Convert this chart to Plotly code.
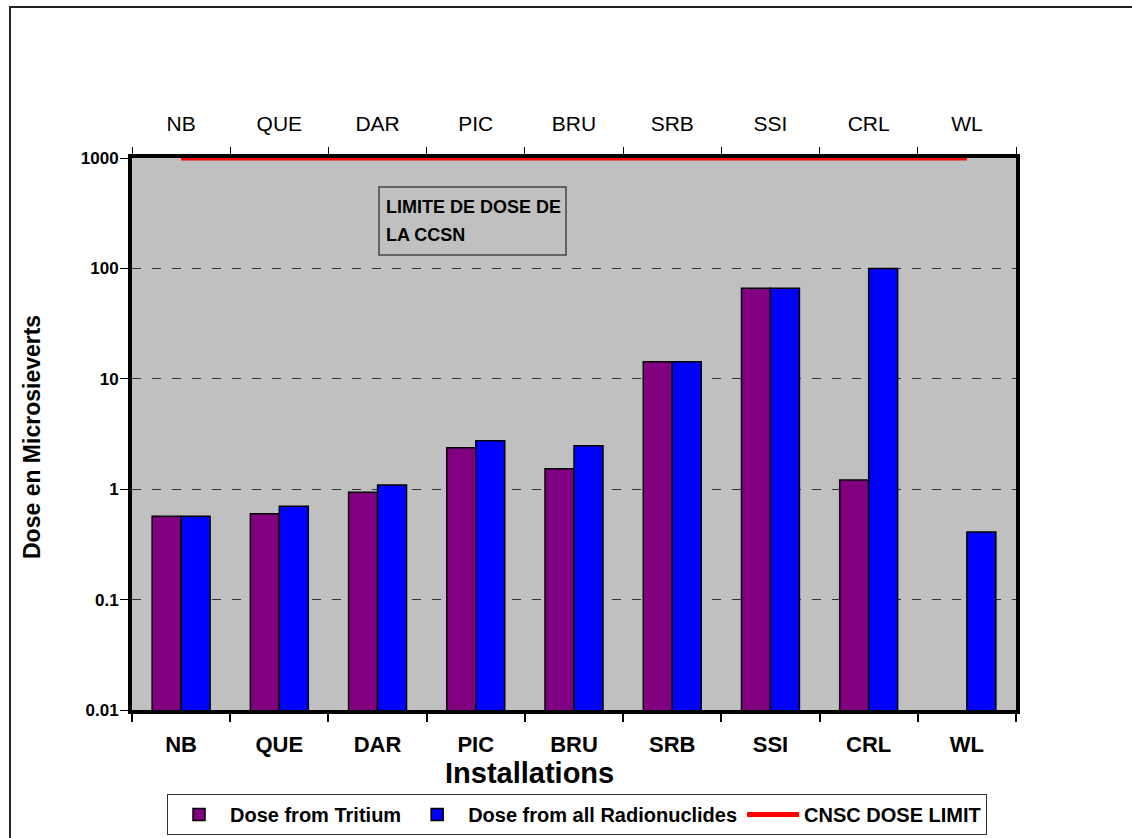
import plotly.graph_objects as go

# Installations along the category axis
sites = ["NB", "QUE", "DAR", "PIC", "BRU", "SRB", "SSI", "CRL", "WL"]

# Annual public dose (microsieverts) per installation
dose_tritium = [0.57, 0.60, 0.94, 2.38, 1.53, 14.3, 66.0, 1.21, None]
dose_all = [0.57, 0.70, 1.09, 2.75, 2.47, 14.3, 66.0, 100.0, 0.41]

# Regulatory dose limit drawn across all installations
dose_limit = [1000, 1000, 1000, 1000, 1000, 1000, 1000, 1000, 1000]

# Log-axis ticks
y_tick_vals = [0.01, 0.1, 1, 10, 100, 1000]
y_tick_text = ["0.01", "0.1", "1", "10", "100", "1000"]

FONT = "Liberation Sans, Arial, sans-serif"
W, H = 1132, 838
L, R, T, B = 132, 116, 158, 128
PW, PH = W - L - R, H - T - B


def px_x(px):
    return (px - L) / PW


def px_y(py):
    return (H - B - py) / PH


fig = go.Figure()

fig.add_bar(
    x=sites, y=dose_tritium, name="Dose from Tritium",
    marker=dict(color="#800080", line=dict(color="black", width=1.5)),
)
fig.add_bar(
    x=sites, y=dose_all, name="Dose from all Radionuclides",
    marker=dict(color="#0000FF", line=dict(color="black", width=1.5)),
)
fig.add_scatter(
    x=sites, y=dose_limit, xaxis="x2", mode="lines", name="CNSC DOSE LIMIT",
    line=dict(color="#FF0000", width=5), cliponaxis=False,
)

boundaries = [i - 0.5 for i in range(len(sites) + 1)]

fig.update_layout(
    width=W, height=H, autosize=False,
    margin=dict(l=L, r=R, t=T, b=B, pad=0, autoexpand=False),
    paper_bgcolor="white", plot_bgcolor="#C0C0C0",
    font=dict(family=FONT, color="black"),
    barmode="group", bargap=0.41, bargroupgap=0,
    showlegend=True,
    legend=dict(
        orientation="h", x=px_x(167), y=px_y(794), xanchor="left", yanchor="top",
        bgcolor="white", bordercolor="#333333", borderwidth=1,
        font=dict(family=FONT, size=20, weight="bold"),
        traceorder="normal", itemwidth=52,
    ),
    xaxis=dict(
        type="category", range=[-0.5, 8.5],
        showline=True, linecolor="black", linewidth=4,
        ticks="outside", tickson="boundaries", ticklen=8, tickwidth=2, tickcolor="black",
        tickfont=dict(family=FONT, size=22, weight="bold"), ticklabelstandoff=12,
        showgrid=False, zeroline=False,
    ),
    xaxis2=dict(
        overlaying="x", side="top", type="category", range=[-0.5, 8.5],
        showline=True, linecolor="black", linewidth=4, layer="below traces",
        ticks="outside", tickson="boundaries", ticklen=7, tickwidth=1, tickcolor="black",
        tickfont=dict(family=FONT, size=21), ticklabelstandoff=15,
        showgrid=False, zeroline=False,
    ),
    xaxis3=dict(
        overlaying="x", side="top", type="linear", range=[-0.5, 8.5],
        tickmode="array", tickvals=boundaries, ticks="inside", ticklen=8, tickwidth=1,
        tickcolor="black", showticklabels=False, showline=False, showgrid=False,
        zeroline=False,
    ),
    yaxis=dict(
        type="log", range=[-2, 3],
        tickmode="array", tickvals=y_tick_vals, ticktext=y_tick_text,
        showline=True, linecolor="black", linewidth=4, mirror=True,
        ticks="outside", ticklen=8, tickwidth=1, tickcolor="black",
        tickfont=dict(family=FONT, size=17, weight="bold"), ticklabelstandoff=-2,
        showgrid=True, gridcolor="#333333", gridwidth=1, griddash="9px,11px",
        zeroline=False,
    ),
)

shapes = [
    # outer chart frame
    dict(type="rect", xref="paper", yref="paper",
         x0=px_x(10), x1=px_x(1160), y0=px_y(860), y1=px_y(7),
         line=dict(color="#222222", width=2), fillcolor="rgba(0,0,0,0)", layer="below"),
    # text box for the limit label
    dict(type="rect", xref="paper", yref="paper",
         x0=px_x(379), x1=px_x(566), y0=px_y(255), y1=px_y(187),
         line=dict(color="#444444", width=1.5), fillcolor="#C0C0C0"),
]

annotations = [
    dict(text="LIMITE DE DOSE DE", xref="paper", yref="paper",
         x=px_x(384), y=px_y(207), xanchor="left", yanchor="middle", showarrow=False,
         font=dict(family=FONT, size=18, weight="bold")),
    dict(text="LA CCSN", xref="paper", yref="paper",
         x=px_x(384), y=px_y(235), xanchor="left", yanchor="middle", showarrow=False,
         font=dict(family=FONT, size=18, weight="bold")),
    dict(text="Installations", xref="paper", yref="paper",
         x=px_x(529), y=px_y(773), xanchor="center", yanchor="middle", showarrow=False,
         font=dict(family=FONT, size=29, weight="bold")),
    dict(text="Dose en Microsieverts", xref="paper", yref="paper", textangle=-90,
         x=px_x(32), y=px_y(437), xanchor="center", yanchor="middle", showarrow=False,
         font=dict(family=FONT, size=23, weight="bold")),
]

fig.update_layout(shapes=shapes, annotations=annotations)

fig.write_html("out.html")
